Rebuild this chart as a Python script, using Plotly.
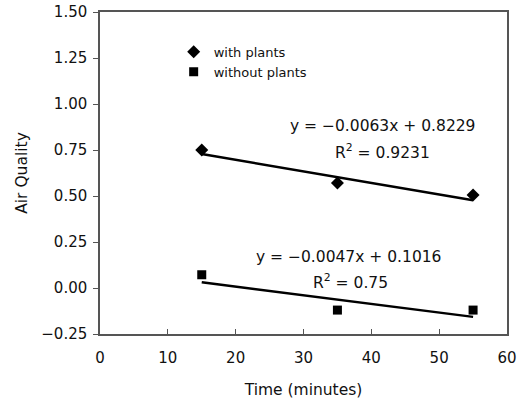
import plotly.graph_objects as go

time_min = [15, 35, 55]
with_plants = [0.75, 0.57, 0.505]
without_plants = [0.072, -0.12, -0.12]
trend_with = (-0.0063, 0.8229)
trend_without = (-0.0047, 0.1016)
trend_x = [15, 55]
x_ticks = [0, 10, 20, 30, 40, 50, 60]
y_ticks = [-0.25, 0.0, 0.25, 0.5, 0.75, 1.0, 1.25, 1.5]

FONT = "DejaVu Sans"
TXT = "#111111"

fig = go.Figure()
fig.add_trace(go.Scatter(x=time_min, y=with_plants, mode="markers", name="with plants",
                         marker=dict(symbol="diamond", size=10, color="black")))
fig.add_trace(go.Scatter(x=time_min, y=without_plants, mode="markers", name="without plants",
                         marker=dict(symbol="square", size=9, color="black")))
for m, b in (trend_with, trend_without):
    fig.add_trace(go.Scatter(x=trend_x, y=[m * x + b for x in trend_x], mode="lines",
                             line=dict(color="black", width=2.5), showlegend=False, hoverinfo="skip"))

EQ = dict(size=15.5, color=TXT, family=FONT)
fig.add_annotation(x=41.7, y=0.88, xref="x", yref="y", text="y = −0.0063x + 0.8229",
                   showarrow=False, font=EQ)
fig.add_annotation(x=41.7, y=0.74, xref="x", yref="y", text="R<sup>2</sup> = 0.9231",
                   showarrow=False, font=EQ)
fig.add_annotation(x=36.7, y=0.168, xref="x", yref="y", text="y = −0.0047x + 0.1016",
                   showarrow=False, font=EQ)
fig.add_annotation(x=36.9, y=0.033, xref="x", yref="y", text="R<sup>2</sup> = 0.75",
                   showarrow=False, font=EQ)

fig.update_layout(
    width=531, height=399,
    margin=dict(l=100, r=24, t=12, b=65),
    paper_bgcolor="white", plot_bgcolor="white",
    font=dict(family=FONT, size=15, color=TXT),
    legend=dict(x=0.181, y=0.923, xanchor="left", yanchor="top", bgcolor="rgba(0,0,0,0)",
                font=dict(size=13, color=TXT, family=FONT), tracegroupgap=2, itemwidth=30),
    xaxis=dict(range=[0, 60], tickvals=x_ticks, ticks="inside", ticklen=5, tickcolor="#555",
               showline=True, mirror=True, linecolor="#555", linewidth=1.5, showgrid=False,
               zeroline=False, tickfont=dict(size=15), ticklabelstandoff=9, automargin=False,
               title=dict(text="Time (minutes)", standoff=24, font=dict(size=15.5))),
    yaxis=dict(range=[-0.25, 1.5], tickvals=y_ticks, tickformat=".2f", ticks="outside", ticklen=5,
               tickcolor="#555", showline=True, mirror=True, linecolor="#555", linewidth=1.5,
               showgrid=False, zeroline=False, tickfont=dict(size=15), ticklabelstandoff=3,
               automargin=False,
               title=dict(text="Air Quality", standoff=10, font=dict(size=15.5))),
)
fig.write_html("out.html")
